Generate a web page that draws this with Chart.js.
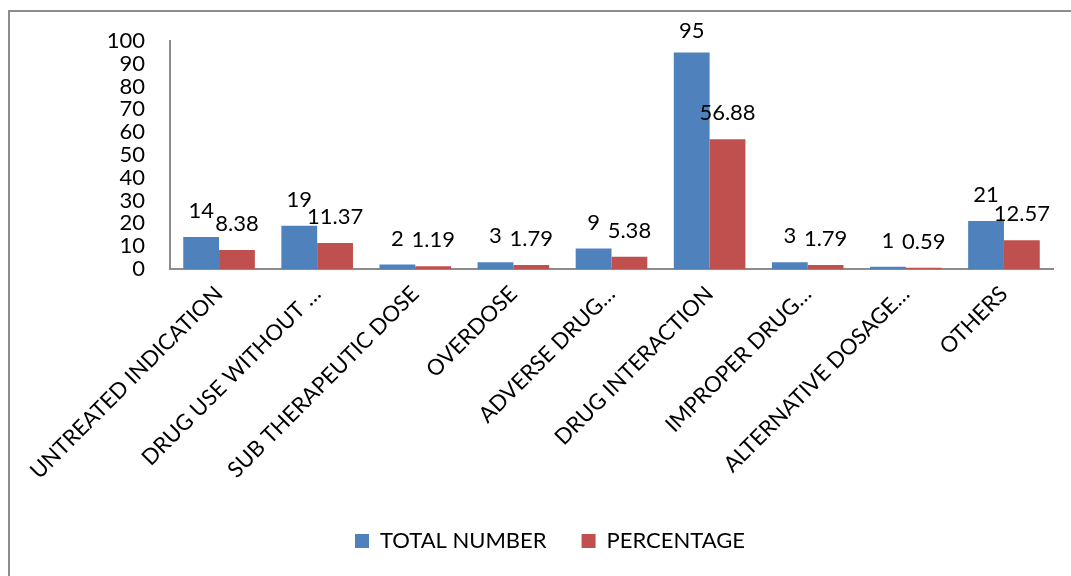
<!DOCTYPE html>
<html>
<head>
<meta charset="utf-8">
<script src="https://cdn.jsdelivr.net/npm/chart.js@4/dist/chart.umd.min.js"></script>
<style>
  html, body { margin: 0; padding: 0; background: #fff; }
  #wrap { width: 1071px; height: 576px; }
</style>
</head>
<body>
<div id="wrap"><canvas id="drpChart" width="1071" height="576"></canvas></div>
<script>
// drug related problems, counts and share
var categories = [
    'UNTREATED INDICATION',
    'DRUG USE WITHOUT …',
    'SUB THERAPEUTIC DOSE',
    'OVERDOSE',
    'ADVERSE DRUG…',
    'DRUG INTERACTION',
    'IMPROPER DRUG…',
    'ALTERNATIVE DOSAGE…',
    'OTHERS'
];
var totalNumber = [14, 19, 2, 3, 9, 95, 3, 1, 21];
var percentage = [8.38, 11.37, 1.19, 1.79, 5.38, 56.88, 1.79, 0.59, 12.57];

var FONT = 'Lato, "Open Sans", sans-serif';
var FONT_SIZE = 22;

// frame lines on the left and top
var framePlugin = {
    id: 'frame',
    beforeDraw: function (chart) {
        var ctx = chart.ctx;
        ctx.save();
        ctx.strokeStyle = '#8c8c8c';
        ctx.lineWidth = 2;
        ctx.beginPath();
        ctx.moveTo(9, 576);
        ctx.lineTo(9, 11);
        ctx.lineTo(1071, 11);
        ctx.stroke();
        ctx.restore();
    }
};

// value written above each bar
var valueLabels = {
    id: 'valueLabels',
    afterDatasetsDraw: function (chart) {
        var ctx = chart.ctx;
        ctx.save();
        ctx.font = FONT_SIZE + 'px ' + FONT;
        ctx.fillStyle = '#000';
        ctx.textAlign = 'center';
        ctx.textBaseline = 'middle';
        chart.data.datasets.forEach(function (ds, i) {
            var meta = chart.getDatasetMeta(i);
            meta.data.forEach(function (bar, j) {
                var y = Math.max(bar.y - 26, 31);
                ctx.fillText(String(ds.data[j]), bar.x, y);
            });
        });
        ctx.restore();
    }
};

new Chart(document.getElementById('drpChart'), {
    type: 'bar',
    data: {
        labels: categories,
        datasets: [{
            label: 'TOTAL NUMBER',
            data: totalNumber,
            backgroundColor: '#4f81bd',
            categoryPercentage: 0.73,
            barPercentage: 1
        }, {
            label: 'PERCENTAGE',
            data: percentage,
            backgroundColor: '#c0504d',
            categoryPercentage: 0.73,
            barPercentage: 1
        }]
    },
    options: {
        responsive: false,
        animation: false,
        // left padding pushes the legend a little right of centre
        layout: { padding: { top: 41, left: 47, right: 18, bottom: 14 } },
        plugins: {
            legend: {
                position: 'bottom',
                labels: {
                    boxWidth: 14,
                    boxHeight: 14,
                    padding: 35,
                    color: '#000',
                    font: { size: FONT_SIZE, family: FONT }
                }
            },
            tooltip: { enabled: false }
        },
        scales: {
            x: {
                grid: { display: false, drawTicks: false },
                border: { display: true, color: '#8c8c8c', width: 2 },
                ticks: {
                    autoSkip: false,
                    maxRotation: 45,
                    minRotation: 45,
                    padding: 12,
                    color: '#000',
                    font: { size: FONT_SIZE, family: FONT }
                },
                afterFit: function (scale) { scale.height = 226; }
            },
            y: {
                min: 0,
                max: 100,
                grid: { display: false, drawTicks: false },
                border: { display: true, color: '#8c8c8c', width: 2 },
                ticks: {
                    stepSize: 10,
                    autoSkip: false,
                    padding: 25,
                    color: '#000',
                    font: { size: FONT_SIZE, family: FONT, lineHeight: 1 }
                },
                afterFit: function (scale) { scale.width = 123; }
            }
        }
    },
    plugins: [framePlugin, valueLabels]
});
</script>
</body>
</html>
